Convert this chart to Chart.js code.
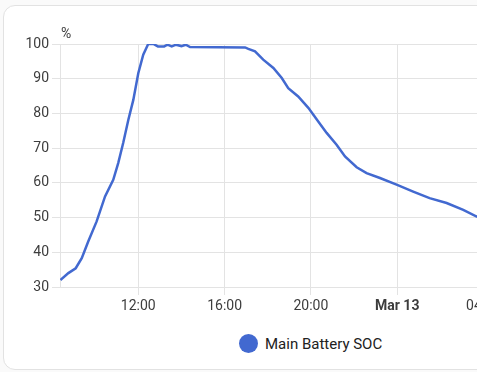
<!DOCTYPE html>
<html>
<head>
<meta charset="utf-8">
<script src="https://cdn.jsdelivr.net/npm/chart.js@4"></script>
<style>
  html, body { margin: 0; padding: 0; }
  body {
    width: 477px; height: 372px; overflow: hidden; position: relative;
    background: #fafafa; font-family: Roboto, "Noto Sans", sans-serif;
  }
  #card {
    position: absolute; left: 3px; top: 5px; width: 640px; height: 363px;
    background: #fff; border: 1px solid #e2e2e2; border-radius: 12px;
  }
  #chart-wrap { position: absolute; left: 0; top: 0; width: 520px; height: 320px; }
  #unit { position: absolute; left: 61px; top: 25px; font-size: 14px; color: #3d3d3d; }
  #legend {
    position: absolute; left: 239px; top: 334px; height: 19px;
    display: flex; align-items: center; font-size: 15px; color: #212121;
  }
  #legend .dot { width: 19px; height: 19px; border-radius: 50%; margin-right: 7px; }
</style>
</head>
<body>
<div id="card"></div>
<div id="chart-wrap"><canvas id="soc-chart"></canvas></div>
<div id="unit">%</div>
<div id="legend"><span class="dot"></span><span class="label"></span></div>
<script>
  // hours since Mar 12 00:00
  const seriesName = 'Main Battery SOC';
  const socHours = [
    8.39, 8.76, 9.10, 9.38, 9.68, 10.07, 10.46, 10.84, 11.07, 11.30, 11.54, 11.77,
    12.00, 12.23, 12.46, 12.70, 12.91, 13.20, 13.35, 13.55, 13.75, 14.00, 14.20, 14.40,
    16.95, 17.10, 17.41, 17.79, 18.26, 18.65, 18.95, 19.41, 19.88, 20.34, 20.73, 21.19,
    21.58, 22.12, 22.58, 23.20, 23.97, 24.74, 25.50, 26.29, 27.06, 27.68, 28.30
  ];
  const socValues = [
    32, 34, 35.4, 38.3, 43.1, 48.9, 56.1, 60.9, 65.7, 71.5, 78.2, 83.9,
    91.6, 96.9, 100, 100, 99.3, 99.3, 99.8, 99.3, 99.8, 99.4, 99.8, 99.1,
    99, 98.6, 97.9, 95.5, 93.1, 90.2, 87.3, 84.9, 81.6, 77.7, 74.4, 71.0,
    67.6, 64.5, 62.8, 61.4, 59.5, 57.5, 55.6, 54.2, 52.2, 50.3, 49.9
  ];
  const xTickValues = [12, 16, 20, 24, 28];
  const xTickLabels = ['12:00', '16:00', '20:00', 'Mar 13', '04:00'];
  const yTickValues = [30, 40, 50, 60, 70, 80, 90, 100];

  const lineColor = '#4269d0';
  const gridColor = '#e3e3e3';
  const tickColor = '#3d3d3d';

  document.querySelector('#legend .dot').style.background = lineColor;
  document.querySelector('#legend .label').textContent = seriesName;

  const points = socHours.map((h, i) => ({ x: h, y: socValues[i] }));

  new Chart(document.getElementById('soc-chart'), {
    type: 'line',
    data: {
      datasets: [{
        label: seriesName,
        data: points,
        borderColor: lineColor,
        borderWidth: 2.5,
        pointRadius: 0,
        tension: 0,
        fill: false
      }]
    },
    options: {
      responsive: true,
      maintainAspectRatio: false,
      animation: false,
      layout: { padding: { left: 0, top: 44, right: 30, bottom: 0 } },
      plugins: { legend: { display: false }, tooltip: { enabled: false } },
      scales: {
        x: {
          type: 'linear',
          min: 8.372,
          max: 28.30,
          afterBuildTicks: (scale) => {
            scale.ticks = xTickValues.map((v) => ({ value: v }));
          },
          afterFit: (scale) => { scale.height = 33; },
          grid: { color: gridColor, tickLength: 8 },
          border: { color: gridColor },
          ticks: {
            color: tickColor,
            maxRotation: 0,
            autoSkip: false,
            padding: 3,
            font: (ctx) => ({
              family: 'Roboto',
              size: 14,
              weight: ctx.tick && ctx.tick.value === 24 ? 'bold' : 'normal'
            }),
            callback: (value) => {
              const i = xTickValues.indexOf(value);
              return i >= 0 ? xTickLabels[i] : '';
            }
          }
        },
        y: {
          min: 30,
          max: 100,
          afterBuildTicks: (scale) => {
            scale.ticks = yTickValues.map((v) => ({ value: v }));
          },
          afterFit: (scale) => { scale.width = 60; },
          grid: { color: gridColor, tickLength: 8 },
          border: { color: gridColor },
          ticks: {
            color: tickColor,
            padding: 3,
            font: { family: 'Roboto', size: 14 }
          }
        }
      }
    }
  });
</script>
</body>
</html>
